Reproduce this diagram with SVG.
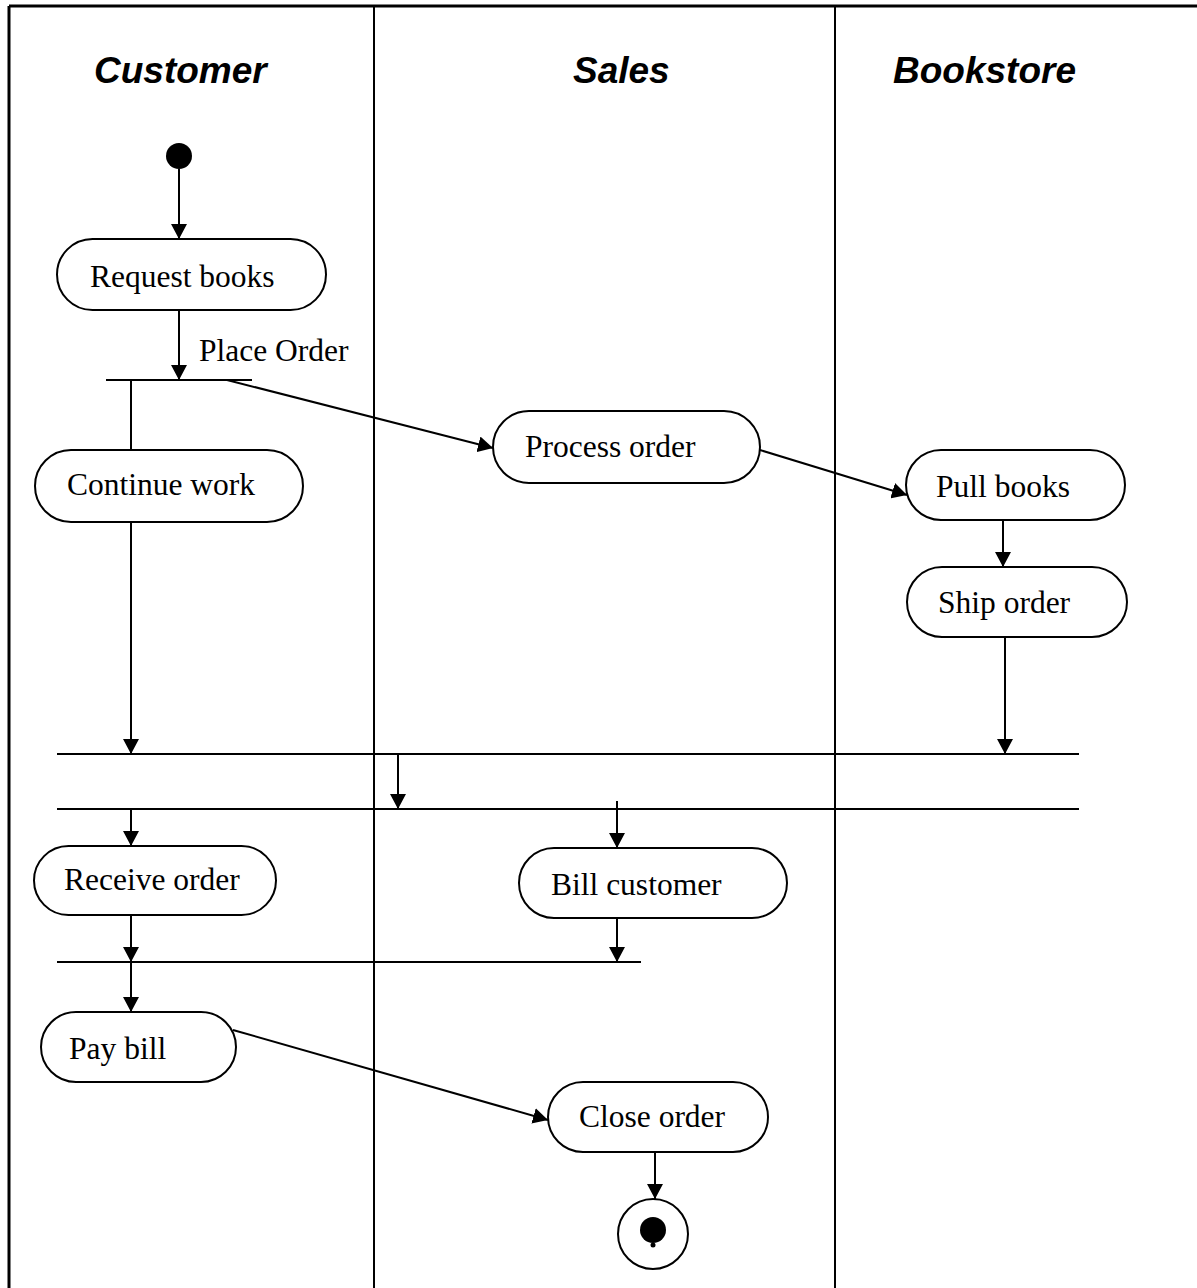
<svg xmlns="http://www.w3.org/2000/svg" width="1197" height="1288" viewBox="0 0 1197 1288">
  <style>
    .lane { stroke: #000; stroke-width: 2; fill: none; }
    .frame { stroke: #000; stroke-width: 3; fill: none; }
    .head { font-family: "Liberation Sans", Arial, sans-serif; font-weight: bold; font-style: italic; font-size: 37px; fill: #000; }
    .act rect { fill: #fff; stroke: #000; stroke-width: 2; }
    .act text, .lbl { font-family: "Liberation Serif", "Times New Roman", serif; font-size: 31.5px; fill: #000; }
    .edge { stroke: #000; stroke-width: 2; fill: none; }
    .bar { stroke: #000; stroke-width: 2; fill: none; }
  </style>
  <defs>
    <marker id="arrow" markerUnits="userSpaceOnUse" markerWidth="16" markerHeight="16" refX="15" refY="8" orient="auto">
      <path d="M0,0 L15,8 L0,16 z" fill="#000"/>
    </marker>
  </defs>
  <rect width="1197" height="1288" fill="#fff"/>

  <!-- swimlane frame -->
  <g id="lanes">
    <line class="frame" x1="9" y1="6" x2="1197" y2="6"/>
    <line class="frame" x1="9" y1="6" x2="9" y2="1288"/>
    <line class="lane" x1="374" y1="6" x2="374" y2="1288"/>
    <line class="lane" x1="835" y1="6" x2="835" y2="1288"/>
    <text class="head" x="94" y="83">Customer</text>
    <text class="head" x="573" y="83">Sales</text>
    <text class="head" x="893" y="83">Bookstore</text>
  </g>

  <!-- start / end -->
  <g id="start"><circle cx="179" cy="156" r="13" fill="#000"/></g>
  <g id="end">
    <circle cx="653" cy="1234" r="35" fill="#fff" stroke="#000" stroke-width="2"/>
    <circle cx="653" cy="1230" r="13" fill="#000"/>
    <circle cx="653" cy="1245" r="2.5" fill="#000"/>
  </g>

  <!-- activities -->
  <g id="request-books" class="act"><rect x="57" y="239" width="269" height="71" rx="35.5"/><text x="90" y="287">Request books</text></g>
  <g id="continue-work" class="act"><rect x="35" y="450" width="268" height="72" rx="36"/><text x="67" y="495">Continue work</text></g>
  <g id="process-order" class="act"><rect x="493" y="411" width="267" height="72" rx="36"/><text x="525" y="457">Process order</text></g>
  <g id="pull-books" class="act"><rect x="906" y="450" width="219" height="70" rx="35"/><text x="936" y="497">Pull books</text></g>
  <g id="ship-order" class="act"><rect x="907" y="567" width="220" height="70" rx="35"/><text x="938" y="613">Ship order</text></g>
  <g id="receive-order" class="act"><rect x="34" y="846" width="242" height="69" rx="34.5"/><text x="64" y="890">Receive order</text></g>
  <g id="bill-customer" class="act"><rect x="519" y="848" width="268" height="70" rx="35"/><text x="551" y="895">Bill customer</text></g>
  <g id="pay-bill" class="act"><rect x="41" y="1012" width="195" height="70" rx="35"/><text x="69" y="1059">Pay bill</text></g>
  <g id="close-order" class="act"><rect x="548" y="1082" width="220" height="70" rx="35"/><text x="579" y="1127">Close order</text></g>

  <!-- fork / join bars -->
  <g id="bars">
    <line class="bar" x1="106" y1="380" x2="252" y2="380"/>
    <line class="bar" x1="57" y1="754" x2="1079" y2="754"/>
    <line class="bar" x1="57" y1="809" x2="1079" y2="809"/>
    <line class="bar" x1="57" y1="962" x2="641" y2="962"/>
  </g>

  <!-- connectors -->
  <g id="connectors">
    <line class="edge" x1="179" y1="169" x2="179" y2="239" marker-end="url(#arrow)"/>
    <line class="edge" x1="179" y1="310" x2="179" y2="380" marker-end="url(#arrow)"/>
    <text class="lbl" x="199" y="361">Place Order</text>
    <line class="edge" x1="131" y1="380" x2="131" y2="450"/>
    <line class="edge" x1="227" y1="380" x2="493" y2="448" marker-end="url(#arrow)"/>
    <line class="edge" x1="760" y1="450" x2="907" y2="495" marker-end="url(#arrow)"/>
    <line class="edge" x1="1003" y1="520" x2="1003" y2="567" marker-end="url(#arrow)"/>
    <line class="edge" x1="1005" y1="637" x2="1005" y2="754" marker-end="url(#arrow)"/>
    <line class="edge" x1="131" y1="522" x2="131" y2="754" marker-end="url(#arrow)"/>
    <line class="edge" x1="398" y1="754" x2="398" y2="809" marker-end="url(#arrow)"/>
    <line class="edge" x1="131" y1="809" x2="131" y2="846" marker-end="url(#arrow)"/>
    <line class="edge" x1="617" y1="801" x2="617" y2="848" marker-end="url(#arrow)"/>
    <line class="edge" x1="617" y1="918" x2="617" y2="962" marker-end="url(#arrow)"/>
    <line class="edge" x1="131" y1="915" x2="131" y2="962" marker-end="url(#arrow)"/>
    <line class="edge" x1="131" y1="962" x2="131" y2="1012" marker-end="url(#arrow)"/>
    <line class="edge" x1="233" y1="1030" x2="548" y2="1120" marker-end="url(#arrow)"/>
    <line class="edge" x1="655" y1="1152" x2="655" y2="1199" marker-end="url(#arrow)"/>
  </g>
</svg>
